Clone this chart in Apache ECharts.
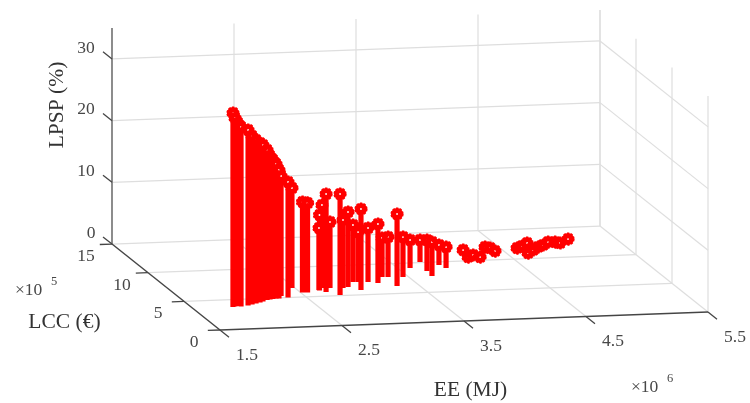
<!DOCTYPE html>
<html>
<head>
<meta charset="utf-8">
<style>
html,body{margin:0;padding:0;background:#fff;}
#chart{width:750px;height:403px;filter:blur(0.55px);}
</style>
<script src="https://cdn.jsdelivr.net/npm/echarts@6/dist/echarts.min.js"></script>
</head>
<body>
<div id="chart"></div>
<script>
// EE in 10^6 MJ
var ee = [1.828,1.849,1.877,1.896,1.961,2.002,2.043,2.084,2.117,2.164,2.192,2.220,2.249,2.272,2.313,2.353,2.477,2.515,2.555,2.669,
  2.668,2.712,2.705,2.775,2.785,2.877,2.926,3.014,3.054,2.998,3.132,3.200,3.291,3.338,3.320,3.455,3.599,3.736,3.702,3.692,
  3.855,3.881,4.172,4.142,4.191,4.236,4.373,4.403,4.412,4.614,4.673,4.732,4.651,4.730,4.788,4.857,4.916,4.971,5.010,5.112];
// LCC in 10^5 EUR
var lcc = [3.756,3.827,3.892,3.790,3.914,4.056,4.198,4.340,4.488,4.714,4.779,4.844,4.909,4.891,5.296,5.002,6.562,5.746,5.716,6.062,
  5.976,6.377,5.686,6.328,5.099,6.248,6.384,7.187,7.156,5.803,7.094,6.867,7.842,7.805,6.249,7.713,9.171,10.110,8.566,7.701,
  9.493,8.949,11.514,10.315,10.451,10.241,11.878,11.680,11.150,11.514,11.818,12.121,10.614,11.250,11.552,12.022,12.325,12.281,12.251,12.868];
// LPSP in %
var lpsp = [31.44,30.55,29.66,29.09,28.44,27.31,26.50,25.85,25.36,24.31,23.26,22.53,21.80,20.83,19.45,18.72,16.21,14.67,14.51,10.05,
  12.24,13.45,15.88,10.70,16.37,11.02,12.16,9.24,8.10,13.13,8.75,9.56,6.32,6.48,11.67,6.48,4.54,3.57,5.02,5.51,
  3.24,3.40,0.32,0.32,0.49,0.32,0.32,0.32,0.32,0.32,0.32,0.49,0.32,0.16,0.32,0.16,0.32,0.32,0.16,0.16];

var eeTicks = [1.5,2.5,3.5,4.5,5.5];
var lccTicks = [0,5,10,15];
var lpspTicks = [0,10,20,30];
var eeTickLabels = ['1.5','2.5','3.5','4.5','5.5'];
var lccTickLabels = ['0','5','10','15'];
var lpspTickLabels = ['0','10','20','30'];
var eeRange = [1.5,5.5], lccRange = [0,15], lpspRange = [0,35];

// Orthographic projection of (EE, LCC, LPSP) on the drawing plane
function project(x,y,z){
  return [220 + 122*(x-1.5) - 7.2*y, 330 - 4.5*(x-1.5) - 5.73*y - 6.17*z];
}
function seg(a,b){ var p=project.apply(null,a), q=project.apply(null,b); return [p[0],p[1],q[0],q[1]]; }

var gridSegs = [];
eeTicks.forEach(function(x){
  gridSegs.push(seg([x,lccRange[0],0],[x,lccRange[1],0]));
  if(x>eeRange[0]) gridSegs.push(seg([x,lccRange[1],0],[x,lccRange[1],lpspRange[1]]));
});
lccTicks.forEach(function(y){
  if(y>lccRange[0]) gridSegs.push(seg([eeRange[0],y,0],[eeRange[1],y,0]));
  gridSegs.push(seg([eeRange[1],y,0],[eeRange[1],y,lpspRange[1]]));
});
lpspTicks.forEach(function(z){
  if(z>0){
    gridSegs.push(seg([eeRange[0],lccRange[1],z],[eeRange[1],lccRange[1],z]));
    gridSegs.push(seg([eeRange[1],lccRange[1],z],[eeRange[1],lccRange[0],z]));
  }
});

var axisSegs = [ seg([eeRange[0],0,0],[eeRange[1],0,0]), seg([eeRange[0],0,0],[eeRange[0],15,0]) ];
var tickLen = 1.25;
eeTicks.forEach(function(x){ axisSegs.push(seg([x,0,0],[x,-tickLen,0])); });
lccTicks.forEach(function(y){ axisSegs.push(seg([1.5,y,0],[1.4,y,0])); });
lpspTicks.forEach(function(z){ axisSegs.push(seg([1.5,15,z],[1.5,15+tickLen,z])); });
var zAxisSegs = [ seg([1.5,15,0],[1.5,15,35]) ];

var stems = ee.map(function(x,i){ return seg([x,lcc[i],0],[x,lcc[i],lpsp[i]]); });
var tops = ee.map(function(x,i){ return project(x,lcc[i],lpsp[i]); });

var tickTextColor = '#474747';
var serif = '"Liberation Serif","Times New Roman",serif';
var tickFont = 17.5, titleFont = 21.5;

var labelItems = [];
eeTicks.forEach(function(x,i){ var p=project(x,0,0); labelItems.push({p:[p[0]+27,p[1]+25],t:eeTickLabels[i]}); });
lccTicks.forEach(function(y,i){ var p=project(1.5,y,0); labelItems.push({p:[p[0]-26,p[1]+12.5],t:lccTickLabels[i]}); });
lpspTicks.forEach(function(z,i){ var p=project(1.5,15,z); labelItems.push({p:[p[0]-26+(z===0?5:0),p[1]-11],t:lpspTickLabels[i]}); });

function lineSeries(data,color,width,z){
  return {
    type:'custom', coordinateSystem:'cartesian2d', silent:true, z:z, clip:false,
    encode:{x:[0,2],y:[1,3]},
    data:data,
    renderItem:function(params,api){
      var a=api.coord([api.value(0),api.value(1)]), b=api.coord([api.value(2),api.value(3)]);
      return {type:'line',shape:{x1:a[0],y1:a[1],x2:b[0],y2:b[1]},
        style:{stroke:color,lineWidth:width,lineCap:'butt',fill:null}};
    }
  };
}

var chart = echarts.init(document.getElementById('chart'),null,{renderer:'canvas'});
chart.setOption({
  animation:false,
  backgroundColor:'#fff',
  grid:{left:0,right:0,top:0,bottom:0},
  xAxis:{type:'value',min:0,max:750,show:false},
  yAxis:{type:'value',min:0,max:403,inverse:true,show:false},
  series:[
    lineSeries(gridSegs,'#dedede',1.2,1),
    lineSeries(zAxisSegs,'#808080',1.8,2),
    lineSeries(axisSegs,'#454545',1.3,2),
    lineSeries(stems,'#ff0000',5.2,3),
    {type:'scatter',z:4,silent:true,symbol:'circle',symbolSize:7,data:tops,
      itemStyle:{color:'#ffffff',borderColor:'#ff0000',borderWidth:5.2,opacity:1}},
    {type:'scatter',z:4,silent:true,symbol:'circle',symbolSize:11.4,data:tops,
      itemStyle:{color:'rgba(0,0,0,0)',borderColor:'#ff0000',borderWidth:1.8,borderType:[2.2,1.4],opacity:1}},
    {type:'custom',coordinateSystem:'cartesian2d',silent:true,z:5,clip:false,
      encode:{x:0,y:1},
      data:labelItems.map(function(d){return d.p;}),
      renderItem:function(params,api){
        var c=api.coord([api.value(0),api.value(1)]);
        return {type:'text',x:c[0],y:c[1],style:{text:labelItems[params.dataIndex].t,
          fontFamily:serif,fontSize:tickFont,fill:tickTextColor,align:'center',verticalAlign:'middle'}};
      }}
  ],
  graphic:[
    {type:'text',x:57,y:105,rotation:Math.PI/2,style:{text:'LPSP (%)',fontFamily:serif,fontSize:titleFont,fill:'#333',align:'center',verticalAlign:'middle'}},
    {type:'text',x:64.5,y:322,style:{text:'LCC (€)',fontFamily:serif,fontSize:titleFont,fill:'#333',align:'center',verticalAlign:'middle'}},
    {type:'text',x:470.5,y:390,style:{text:'EE (MJ)',fontFamily:serif,fontSize:titleFont,fill:'#333',align:'center',verticalAlign:'middle'}},
    {type:'text',x:15,y:290,style:{text:'×10',fontFamily:serif,fontSize:tickFont,fill:tickTextColor,align:'left',verticalAlign:'middle'}},
    {type:'text',x:51,y:282,style:{text:'5',fontFamily:serif,fontSize:12.5,fill:tickTextColor,align:'left',verticalAlign:'middle'}},
    {type:'text',x:631,y:387,style:{text:'×10',fontFamily:serif,fontSize:tickFont,fill:tickTextColor,align:'left',verticalAlign:'middle'}},
    {type:'text',x:667,y:379,style:{text:'6',fontFamily:serif,fontSize:12.5,fill:tickTextColor,align:'left',verticalAlign:'middle'}}
  ]
});
</script>
</body>
</html>
